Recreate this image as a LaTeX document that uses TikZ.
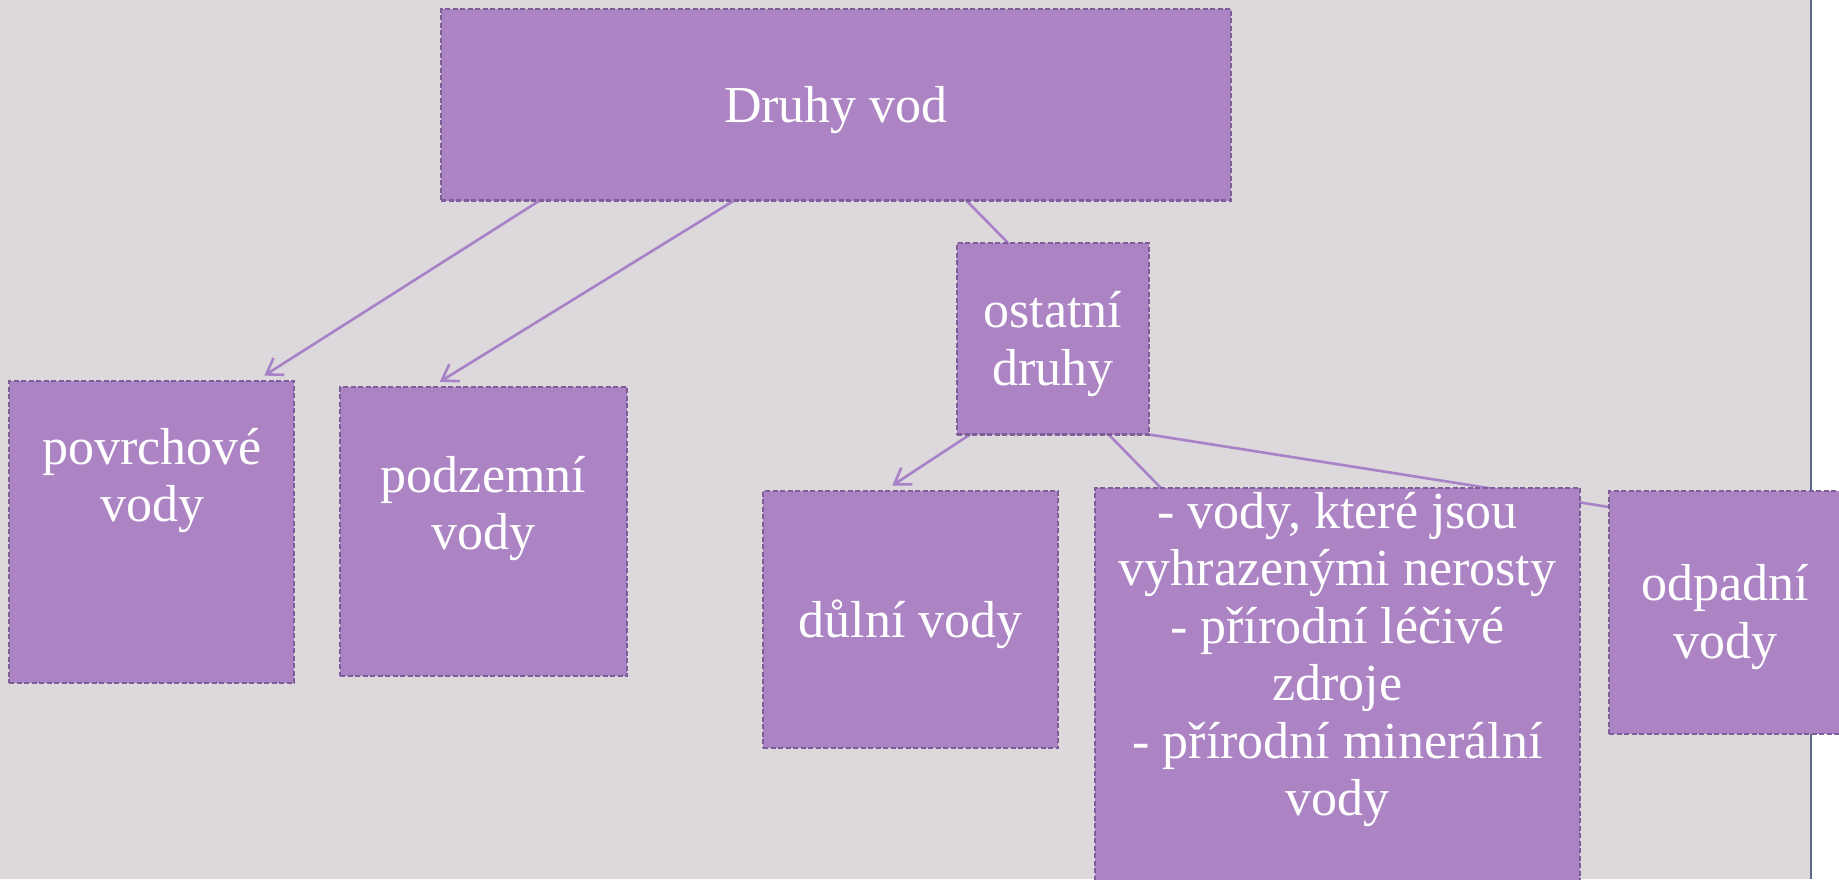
\documentclass[tikz,border=0pt]{standalone}
\usepackage{fontspec}
\setmainfont{Liberation Serif}
\usetikzlibrary{arrows.meta,calc}
\pgfdeclarelayer{back}
\pgfdeclarelayer{bg}
\pgfsetlayers{back,bg,main}
\definecolor{pagebg}{HTML}{DCD8DC}
\definecolor{boxfill}{HTML}{AC84C4}
\definecolor{boxline}{HTML}{7E5E98}
\definecolor{linkcol}{HTML}{A882C6}
\definecolor{rulecol}{HTML}{5B6A8C}
\tikzset{
  box/.style={draw=boxline, fill=boxfill, line width=2.4pt, dash pattern=on 5pt off 2.5pt,
    inner sep=0pt, outer sep=0pt, anchor=north west},
  boxtext/.style={text=white, font=\fontsize{52}{57.5}\selectfont, align=center,
    inner sep=0pt, anchor=north},
  link/.style={draw=linkcol, line width=2.6pt},
  arrowlink/.style={link, -{Straight Barb[length=15pt,width=20pt]}, shorten >=10pt},
}
\begin{document}
\begin{tikzpicture}[x=1pt,y=-1pt]
\useasboundingbox (0,0) rectangle (1839,879);
\begin{pgfonlayer}{back}
  \fill[pagebg] (0,0) rectangle (1811,879);
  \fill[white] (1811,0) rectangle (1839,879);
  \draw[rulecol, line width=2pt] (1811,0) -- (1811,879);
\end{pgfonlayer}

% boxes
\node[box, minimum width=790pt, minimum height=191.5pt] (top) at (441,9) {};
\node[box, minimum width=285pt, minimum height=302pt] (pov) at (9,381) {};
\node[box, minimum width=287pt, minimum height=289pt] (pod) at (340,387) {};
\node[box, minimum width=192pt, minimum height=191.5pt] (ost) at (957,243) {};
\node[box, minimum width=295pt, minimum height=257pt] (dul) at (763,491) {};
\node[box, minimum width=485pt, minimum height=420pt] (big) at (1095,488) {};
\node[box, minimum width=232pt, minimum height=243pt] (odp) at (1609,491) {};

% texts
\node[boxtext] (ttop) at (836,81.75) {\strut Druhy vod};
\node[boxtext] (tpov) at (152,423.75) {\strut povrchové\\\strut vody};
\node[boxtext] (tpod) at (483.5,451.75) {\strut podzemní\\\strut vody};
\node[boxtext] (tost) at (1053,287.25) {\strut ostatní\\\strut druhy};
\node[boxtext] (tdul) at (910.5,596.75) {\strut důlní vody};
\node[boxtext] (tbig) at (1337.5,487.75) {\strut - vody, které jsou\\\strut vyhrazenými nerosty\\\strut - přírodní léčivé\\\strut zdroje\\\strut - přírodní minerální\\\strut vody};
\node[boxtext] (todp) at (1725,560.25) {\strut odpadní\\\strut vody};

% connectors
\begin{pgfonlayer}{bg}
  \draw[arrowlink] ($(top.south west)!0.125!(top.south east)$) -- ($(pov.north west)!0.866!(pov.north east)$);
  \draw[arrowlink] ($(top.south west)!0.371!(top.south east)$) -- ($(pod.north west)!0.318!(pod.north east)$);
  \draw[link] ($(top.south west)!0.665!(top.south east)$) -- ($(ost.north west)!0.266!(ost.north east)$);
  \draw[arrowlink] ($(ost.south west)!0.068!(ost.south east)$) -- ($(dul.north west)!0.41!(dul.north east)$);
  \draw[link] ($(ost.south west)!0.79!(ost.south east)$) -- ($(big.north west)!0.136!(big.north east)$);
  \draw[link] (ost.south east) -- ($(odp.north west)!0.066!(odp.south west)$);
\end{pgfonlayer}
\end{tikzpicture}
\end{document}
